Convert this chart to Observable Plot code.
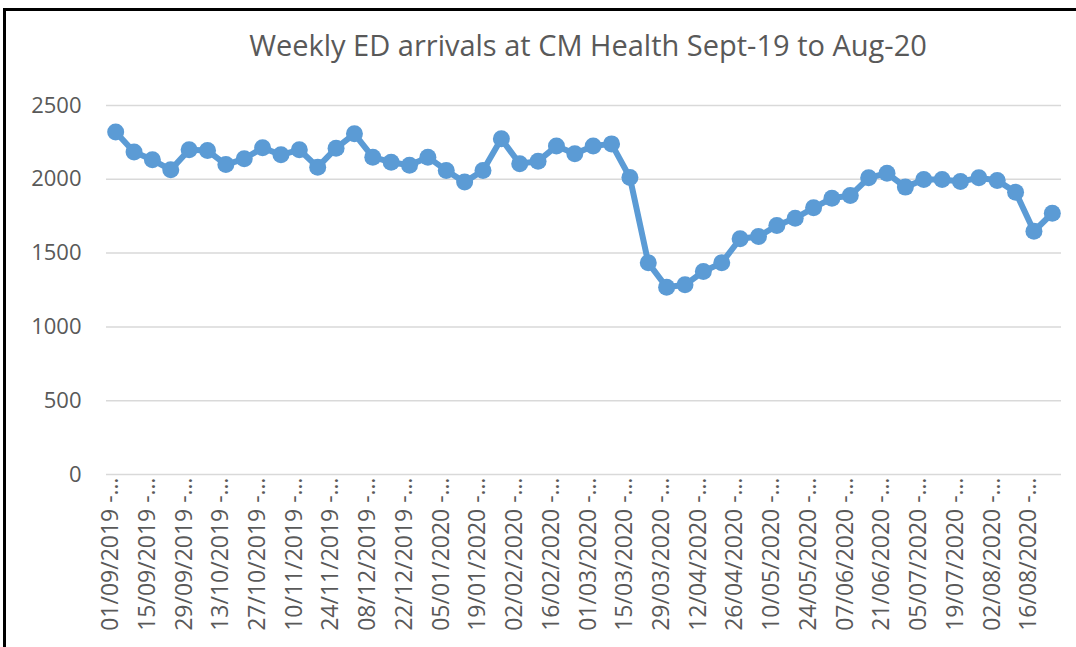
<!DOCTYPE html>
<html>
<head>
<meta charset="utf-8">
<script src="https://cdn.jsdelivr.net/npm/d3@7"></script>
<script src="https://cdn.jsdelivr.net/npm/@observablehq/plot@0.6"></script>
<style>
  html, body { margin: 0; padding: 0; background: #fff; }
  #wrap { position: relative; width: 1076px; height: 647px; overflow: hidden; background: #fff; }
  #frame { position: absolute; left: 3px; top: 8px; width: 1200px; height: 800px;
           border-left: 3px solid #000; border-top: 3px solid #000; }
  #title { position: absolute; left: 110px; width: 956px; top: 25px; text-align: center;
           font-family: "Open Sans", sans-serif; font-size: 29px; color: #595959; white-space: nowrap; }
  #chart { position: absolute; left: 0; top: 0; }
</style>
</head>
<body>
<div id="wrap">
  <div id="frame"></div>
  <div id="chart"></div>
  <div id="title">Weekly ED arrivals at CM Health Sept-19 to Aug-20</div>
</div>
<script>
const weeks = [
  "01/09/2019","08/09/2019","15/09/2019","22/09/2019","29/09/2019",
  "06/10/2019","13/10/2019","20/10/2019","27/10/2019",
  "03/11/2019","10/11/2019","17/11/2019","24/11/2019",
  "01/12/2019","08/12/2019","15/12/2019","22/12/2019","29/12/2019",
  "05/01/2020","12/01/2020","19/01/2020","26/01/2020",
  "02/02/2020","09/02/2020","16/02/2020","23/02/2020",
  "01/03/2020","08/03/2020","15/03/2020","22/03/2020","29/03/2020",
  "05/04/2020","12/04/2020","19/04/2020","26/04/2020",
  "03/05/2020","10/05/2020","17/05/2020","24/05/2020","31/05/2020",
  "07/06/2020","14/06/2020","21/06/2020","28/06/2020",
  "05/07/2020","12/07/2020","19/07/2020","26/07/2020",
  "02/08/2020","09/08/2020","16/08/2020","23/08/2020"
];
const arrivals = [
  2320,2185,2132,2064,2200,2195,2100,2139,2213,2166,
  2200,2082,2211,2308,2150,2116,2095,2150,2060,1981,
  2060,2274,2105,2123,2225,2173,2225,2240,2012,1434,
  1269,1285,1375,1434,1597,1612,1687,1736,1807,1872,
  1890,2010,2041,1947,1999,1999,1985,2010,1992,1913,
  1648,1770
];
const yTicks = [0, 500, 1000, 1500, 2000, 2500];
const xTickLabels = weeks.filter((d, i) => i % 2 === 0);

const data = weeks.map((w, i) => ({week: w, value: arrivals[i]}));

const chart = Plot.plot({
  width: 1076,
  height: 647,
  marginLeft: 106,
  marginRight: 15,
  marginTop: 105,
  marginBottom: 173,
  style: {background: "transparent", fontFamily: "'Open Sans', sans-serif", color: "#595959"},
  x: {type: "point", domain: weeks, padding: 0.5, round: false, axis: null},
  y: {domain: [0, 2500], axis: null},
  marks: [
    Plot.ruleY(yTicks, {stroke: "#d9d9d9", strokeWidth: 1.5}),
    Plot.axisY({ticks: yTicks, tickSize: 0, tickPadding: 25, fontSize: 22, fill: "#595959",
                label: null, tickFormat: d => String(d)}),
    Plot.axisX({ticks: xTickLabels, tickSize: 0, tickPadding: 3, tickRotate: -90, fontSize: 23,
                fill: "#595959", label: null, dx: -5, tickFormat: d => d + " -…"}),
    Plot.line(data, {x: "week", y: "value", stroke: "#5b9bd5", strokeWidth: 6, strokeLinejoin: "round"}),
    Plot.dot(data, {x: "week", y: "value", r: 8.5, fill: "#5b9bd5", stroke: "none"})
  ]
});
document.getElementById("chart").appendChild(chart);
</script>
</body>
</html>
